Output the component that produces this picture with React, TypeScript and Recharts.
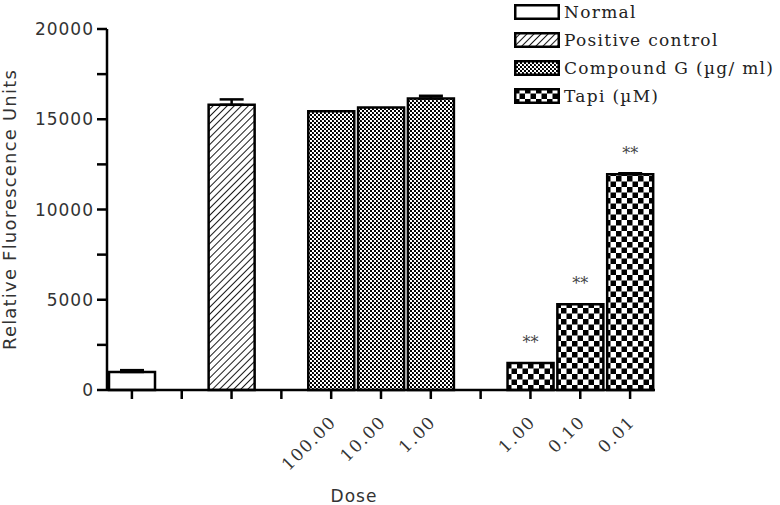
import { Bar, BarChart, Cell, ErrorBar, LabelList, Legend, XAxis, YAxis } from "recharts";

// Dose-response bar chart: fluorescence for normal, positive control,
// Compound G and Tapi doses, with ** significance marks on the Tapi bars.

const categories = ["normal", "gap1", "positive", "gap2", "g100", "g10", "g1", "gap3", "t1", "t01", "t001"];
const tickLabels = ["", "", "", "", "100.00", "10.00", "1.00", "", "1.00", "0.10", "0.01"];
const groups = ["normal", "", "positive", "", "compound", "compound", "compound", "", "tapi", "tapi", "tapi"];
const values = [1000, null, 15800, null, 15450, 15650, 16150, null, 1500, 4750, 11950];
const errors = [100, null, 300, null, null, null, 150, null, null, null, 60];
const stars = ["", "", "", "", "", "", "", "", "**", "**", "**"];
const yTicks = [0, 2500, 5000, 7500, 10000, 12500, 15000, 17500, 20000];

const legendItems = [
  { key: "normal", name: "Normal" },
  { key: "positive", name: "Positive control" },
  { key: "compound", name: "Compound G (\u00b5g/ ml)" },
  { key: "tapi", name: "Tapi (\u00b5M)" },
];

const FILL: Record<string, string> = {
  normal: "#ffffff",
  positive: "url(#pat-hatch)",
  compound: "url(#pat-fine)",
  tapi: "url(#pat-check)",
};

const data = categories.map((c, i) => ({
  cat: c,
  value: values[i],
  err: errors[i] == null ? undefined : [0, errors[i]],
  sig: stars[i],
  group: groups[i],
}));

const SANS = "'DejaVu Sans', sans-serif";
const SERIF = "'DejaVu Serif', serif";

function Patterns() {
  return (
    <defs>
      <pattern id="pat-hatch" width="5" height="5" patternUnits="userSpaceOnUse" patternTransform="rotate(45)">
        <rect width="5" height="5" fill="#fff" />
        <line x1="0" y1="0" x2="0" y2="5" stroke="#000" strokeWidth="1.8" />
      </pattern>
      <pattern id="pat-fine" width="4" height="4" patternUnits="userSpaceOnUse">
        <rect width="4" height="4" fill="#fff" />
        <rect x="0" y="0" width="2" height="2" fill="#000" />
        <rect x="2" y="2" width="2" height="2" fill="#000" />
        <rect x="1" y="0" width="1" height="1" fill="#333" />
      </pattern>
      <pattern id="pat-check" width="11" height="11" patternUnits="userSpaceOnUse">
        <rect width="11" height="11" fill="#fff" />
        <rect x="0" y="0" width="5.5" height="5.5" fill="#000" />
        <rect x="5.5" y="5.5" width="5.5" height="5.5" fill="#000" />
      </pattern>
    </defs>
  );
}

function LegendBox() {
  return (
    <div style={{ fontFamily: SERIF, fontSize: 17, letterSpacing: 1.3, color: "#222" }}>
      {legendItems.map((it) => (
        <div key={it.key} style={{ display: "flex", alignItems: "center", height: 28, whiteSpace: "nowrap" }}>
          <svg width={46} height={16} style={{ marginRight: 4 }}>
            <rect x={1.25} y={1.25} width={43.5} height={13.5} fill={FILL[it.key]} stroke="#000" strokeWidth={2.5} />
          </svg>
          <span>{it.name}</span>
        </div>
      ))}
    </div>
  );
}

function XTick(props: any) {
  const { x, y, payload } = props;
  const label = tickLabels[categories.indexOf(payload.value)];
  if (!label) return null;
  return (
    <text
      x={x + 6}
      y={y + 22}
      transform={`rotate(-45, ${x + 6}, ${y + 22})`}
      textAnchor="end"
      fontFamily={SERIF}
      fontSize={17}
      letterSpacing={1.5}
      fill="#333"
    >
      {label}
    </text>
  );
}

export default function App() {
  return (
    <div style={{ position: "absolute", left: 0, top: 0, width: 780, height: 505, background: "#fff" }}>
      <BarChart width={780} height={505} data={data} margin={{ top: 29, right: 125, left: 7, bottom: 0 }}>
        <Patterns />
        <XAxis
          dataKey="cat"
          height={115}
          interval={0}
          tick={<XTick />}
          tickSize={9}
          axisLine={{ stroke: "#000", strokeWidth: 2.5 }}
          tickLine={{ stroke: "#000", strokeWidth: 2.5 }}
          label={{
            value: "Dose",
            position: "insideBottom",
            offset: 3,
            dx: -27,
            style: { fontFamily: SANS, fontSize: 17, letterSpacing: 1, fill: "#333" },
          }}
        />
        <YAxis
          width={100}
          domain={[0, 20000]}
          ticks={yTicks}
          interval={0}
          tickSize={10}
          tickMargin={3}
          tickFormatter={(v: number) => (v % 5000 === 0 ? String(v) : "")}
          tick={{ fontFamily: SANS, fontSize: 17, letterSpacing: 1, fill: "#333" }}
          axisLine={{ stroke: "#000", strokeWidth: 2.5 }}
          tickLine={{ stroke: "#000", strokeWidth: 2.5 }}
          label={{
            value: "Relative Fluorescence Units",
            angle: -90,
            position: "insideLeft",
            offset: 3,
            style: { textAnchor: "middle", fontFamily: SANS, fontSize: 18, letterSpacing: 1.2, fill: "#333" },
          }}
        />
        <Legend
          layout="vertical"
          align="center"
          verticalAlign="middle"
          wrapperStyle={{ top: -2, left: 514, width: 266, height: 115 }}
          content={() => <LegendBox />}
        />
        <Bar dataKey="value" barSize={46} stroke="#000" strokeWidth={2.5} isAnimationActive={false}>
          {data.map((d) => (
            <Cell key={d.cat} fill={FILL[d.group] ?? "#fff"} />
          ))}
          <ErrorBar dataKey="err" width={12} stroke="#000" strokeWidth={2.5} direction="y" />
          <LabelList
            dataKey="sig"
            position="top"
            offset={15}
            style={{ fontFamily: SERIF, fontSize: 16, fill: "#444" }}
          />
        </Bar>
      </BarChart>
    </div>
  );
}
